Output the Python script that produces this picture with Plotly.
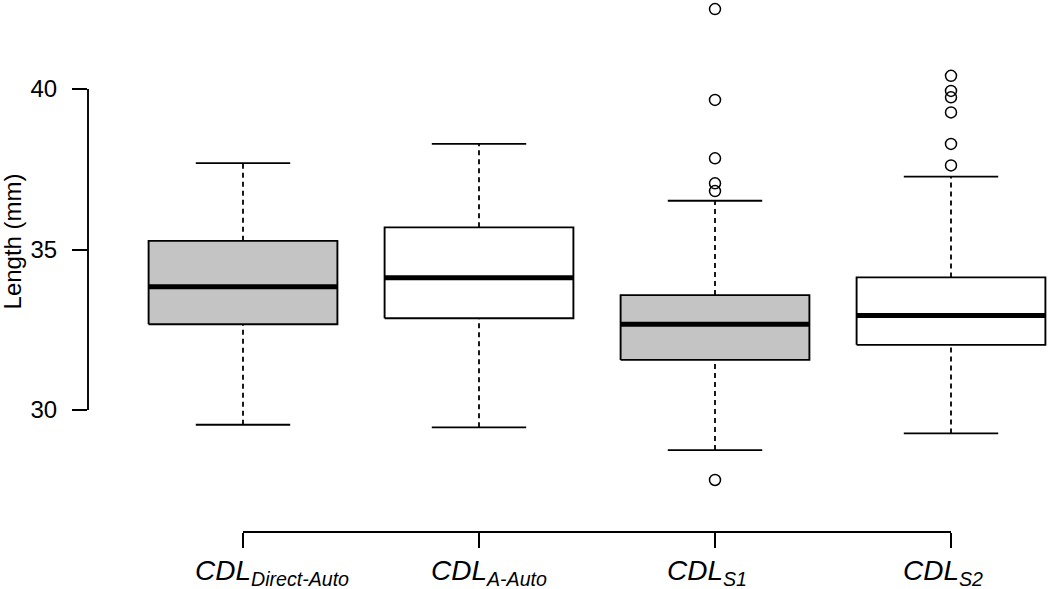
import plotly.graph_objects as go

# ---- data ----
categories = ["Direct-Auto", "A-Auto", "S1", "S2"]
lower_whisker = [29.54, 29.46, 28.75, 29.27]
q1 = [32.67, 32.86, 31.56, 32.03]
median = [33.84, 34.12, 32.67, 32.94]
q3 = [35.27, 35.69, 33.58, 34.13]
upper_whisker = [37.69, 38.29, 36.52, 37.27]
fill_colors = ["#C4C4C4", "#FFFFFF", "#C4C4C4", "#FFFFFF"]
outliers = {
    "S1": [42.49, 39.66, 37.84, 37.06, 36.82, 27.82],
    "S2": [40.41, 39.94, 39.74, 39.27, 38.29, 37.62],
}
y_ticks = [30, 35, 40]

# ---- style ----
half_w = 0.40
staple_half = 0.20
FONT = "Liberation Sans, Arial, sans-serif"

fig = go.Figure()
pos = list(range(1, len(categories) + 1))

for i, p in enumerate(pos):
    # whiskers (dashed)
    for a, b in [(q3[i], upper_whisker[i]), (lower_whisker[i], q1[i])]:
        fig.add_trace(go.Scatter(x=[p, p], y=[a, b], mode="lines",
                                 line=dict(color="black", width=1.8, dash="5px,4px"),
                                 hoverinfo="skip", showlegend=False))
    # staples
    for v in (upper_whisker[i], lower_whisker[i]):
        fig.add_trace(go.Scatter(x=[p - staple_half, p + staple_half], y=[v, v], mode="lines",
                                 line=dict(color="black", width=1.9),
                                 hoverinfo="skip", showlegend=False))
    # box
    fig.add_trace(go.Scatter(
        x=[p - half_w, p + half_w, p + half_w, p - half_w, p - half_w],
        y=[q1[i], q1[i], q3[i], q3[i], q1[i]],
        mode="lines", fill="toself", fillcolor=fill_colors[i],
        line=dict(color="black", width=1.9),
        hoverinfo="skip", showlegend=False))
    # median
    fig.add_trace(go.Scatter(x=[p - half_w, p + half_w], y=[median[i], median[i]], mode="lines",
                             line=dict(color="black", width=5),
                             hoverinfo="skip", showlegend=False))

# outliers
for name, vals in outliers.items():
    p = categories.index(name) + 1
    fig.add_trace(go.Scatter(x=[p] * len(vals), y=vals, mode="markers",
                             marker=dict(symbol="circle-open", size=11, color="black",
                                         line=dict(width=1.5)),
                             cliponaxis=False, hoverinfo="skip", showlegend=False))

# category labels
for i, p in enumerate(pos):
    fig.add_annotation(x=p, y=0, xref="x", yref="paper",
                       text=f"<i>CDL<sub>{categories[i]}</sub></i>",
                       showarrow=False, xanchor="left", yanchor="top",
                       xshift=-50, yshift=-21,
                       font=dict(family=FONT, size=28, color="black"))

# y-axis title
fig.add_annotation(x=0, y=35.25, xref="paper", yref="y", text="Length (mm)",
                   textangle=-90, showarrow=False, xanchor="center", yanchor="middle",
                   xshift=-76, font=dict(family=FONT, size=24, color="black"))

# axis lines (R style: spanning ticks only)
fig.add_shape(type="line", xref="paper", yref="y", x0=0, x1=0,
              y0=min(y_ticks), y1=max(y_ticks), line=dict(color="black", width=1.9))
fig.add_shape(type="line", xref="x", yref="paper", x0=pos[0], x1=pos[-1],
              y0=0, y1=0, line=dict(color="black", width=1.9))

fig.update_layout(
    width=1050, height=589,
    margin=dict(l=88, r=0, t=5, b=57),
    plot_bgcolor="white", paper_bgcolor="white",
    font=dict(family=FONT, color="black"),
    xaxis=dict(range=[0.3432, 4.4195], tickvals=pos, showticklabels=False,
               ticks="outside", ticklen=15, tickwidth=1.9, tickcolor="black",
               showline=False, showgrid=False, zeroline=False, fixedrange=True),
    yaxis=dict(range=[26.199, 42.617], tickvals=y_ticks,
               ticks="outside", ticklen=15, tickwidth=1.9, tickcolor="black",
               ticklabelstandoff=10,
               tickfont=dict(family=FONT, size=24, color="black"),
               showline=False, showgrid=False, zeroline=False, fixedrange=True),
)

fig.write_html("out.html", config={"displayModeBar": False},
               post_script="document.body.style.margin='0';document.body.style.overflow='hidden';")
